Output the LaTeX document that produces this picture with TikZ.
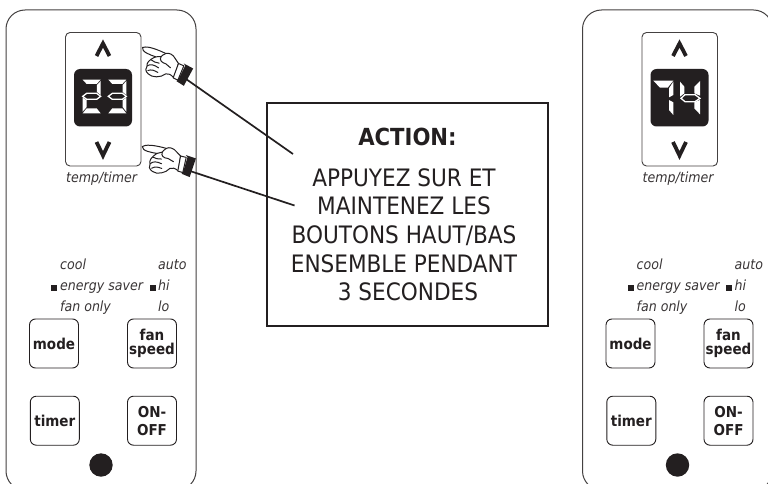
\documentclass[tikz,border=0pt]{standalone}
\usepackage{fontspec}
\setmainfont{DejaVu Sans Condensed}
\definecolor{ink}{HTML}{231F20}
\tikzset{
  x=1pt,y=-1pt,
  shell/.style={draw=ink!85,line width=1pt,fill=white,rounded corners=19pt},
  frame/.style={draw=ink!85,line width=.9pt,rounded corners=4.5pt},
  lcd/.style={fill=ink,rounded corners=6pt},
  btn/.style={draw=ink,line width=.9pt,rounded corners=6pt,minimum width=49pt,minimum height=49pt,inner sep=0pt,align=center,font=\fontsize{15}{15}\selectfont\bfseries,text=ink},
  lab/.style={anchor=base west,inner sep=0pt,font=\fontsize{14}{15}\selectfont\itshape,text=ink!90},
  chev/.style={draw=ink,line width=3.8pt,miter limit=10},
  seg/.style={fill=white},
  segline/.style={draw=white,line width=1.3pt,fill=ink},
  wire/.style={draw=ink,line width=1.7pt},
  handline/.style={draw=ink,line width=1pt,fill=white,line join=round},
  fingerline/.style={draw=ink,line width=1pt,line cap=round},
  actionbox/.style={draw=ink,line width=2pt,fill=white},
}
\newcommand{\remote}[2]{%
  \begin{scope}[xshift=#2pt]
  \draw[shell] (6,10) rectangle (196,490);
  \draw[frame] (65.5,32.5) rectangle (141,166);
  \fill[lcd] (74,69) rectangle (132,126.5);
  \draw[chev] (96.5,56) -- (103,43.5) -- (109.5,56);
  \draw[chev] (96.5,142) -- (103,155.5) -- (109.5,142);
  \node[lab] at (66,182) {temp/timer};
  \node[lab] at (60,269) {cool};
  \node[lab] at (158,269) {auto};
  \node[lab] at (60,290.5) {energy saver};
  \node[lab] at (158,290.5) {hi};
  \node[lab] at (60,311.5) {fan only};
  \node[lab] at (158,311.5) {lo};
  \fill[ink] (51,284.5) rectangle (57,290.5);
  \fill[ink] (149.5,284.5) rectangle (155.5,290.5);
  \node[btn] (#1mode) at (54,343.5) {mode};
  \node[btn] (#1fan) at (152,343.5) {fan\\[-1pt]speed};
  \node[btn] (#1timer) at (54.8,420.7) {timer};
  \node[btn,font=\fontsize{15}{18}\selectfont\bfseries] (#1onoff) at (152,420.7) {ON-\\OFF};
  \fill[ink] (101,465) circle (11.7);
  \end{scope}}
\newcommand{\handpic}[3]{%
  \begin{scope}[shift={(#1,#2)},rotate=#3,x=.3333pt,y=-.3333pt]
  \draw[handline] (0,-3) .. controls (10,-7) and (30,-4) .. (70,15)
     .. controls (80,12) and (92,18) .. (98,30) -- (108,45) -- (94,88)
     .. controls (85,78) and (78,74) .. (70,76)
     .. controls (55,88) and (28,88) .. (17,76)
     .. controls (8,68) and (8,58) .. (14,52)
     .. controls (12,44) and (18,34) .. (40,25)
     .. controls (25,20) and (-4,10) .. (0,-3) -- cycle;
  \draw[fingerline] (40,25) -- (56,24);
  \draw[fingerline] (70,15) .. controls (62,18) and (58,22) .. (56,24) .. controls (50,34) and (56,42) .. (70,46) -- (84,58);
  \draw[fingerline] (14,52) .. controls (24,46) and (34,48) .. (48,58);
  \draw[fingerline] (26,34) .. controls (32,40) and (40,42) .. (50,44);
  \draw[fingerline] (16,66) .. controls (28,62) and (36,66) .. (46,72);
  \draw[handline] (108,45) -- (124,52) -- (106,95) -- (92,88) -- cycle;
  \fill[ink] (124,45) -- (152,60) -- (124,112) -- (102,98) -- (108,92) -- (128,52) -- cycle;
  \end{scope}}
\begin{document}
\begin{tikzpicture}
  \useasboundingbox (0,0) rectangle (768,484);
  \clip (0,0) rectangle (768,484);
  \fill[white] (0,0) rectangle (768,484);
  \remote{a}{0}
  \remote{b}{576.5}
  % digits 2 3
  \begin{scope}[shift={(70,65)},x=.3333pt,y=-.3333pt]
    \foreach \d in {0,77}{
      \begin{scope}[xshift=\d*.3333pt]
      \fill[seg] (38,44) -- (92,44) -- (80,57) -- (50,57) -- cycle;
      \fill[seg] (81,60) -- (92,48) -- (92,90) -- (81,81) -- cycle;
      \draw[segline] (38,94) -- (50,85) -- (80,85) -- (92,94) -- (80,103) -- (50,103) -- cycle;
      \fill[seg] (38,145) -- (50,130) -- (80,130) -- (92,145) -- cycle;
      \end{scope}}
    \fill[seg] (38,98) -- (50,106) -- (50,126) -- (38,140) -- cycle;
    \fill[seg] (169,98) -- (158,106) -- (158,126) -- (169,140) -- cycle;
  \end{scope}
  % digits 7 4
  \begin{scope}[shift={(645,65)},x=.3333pt,y=-.3333pt]
    \fill[seg] (25,47) -- (85,47) -- (68,68) -- (45,68) -- cycle;
    \fill[seg] (72,70) -- (85,50) -- (85,90) -- (72,97) -- cycle;
    \fill[seg] (72,105) -- (85,112) -- (85,150) -- (72,135) -- cycle;
    \fill[seg] (105,50) -- (118,65) -- (118,85) -- (105,95) -- cycle;
    \fill[seg] (148,65) -- (165,48) -- (165,92) -- (148,85) -- cycle;
    \draw[segline] (108,100) -- (120,89) -- (150,89) -- (165,100) -- (150,110) -- (120,110) -- cycle;
    \fill[seg] (148,112) -- (165,105) -- (165,148) -- (148,130) -- cycle;
  \end{scope}
  \node[actionbox,minimum width=281pt,minimum height=222.5pt,inner sep=0pt] (action) at (407.5,214.3) {};
  \node[anchor=base,inner sep=0pt,font=\fontsize{23.5}{28}\selectfont\bfseries,text=ink] (title) at (407.5,146) {ACTION:};
  \node[anchor=north,inner sep=0pt,align=center,font=\fontsize{24}{28.7}\selectfont,text=ink] (body) at (404,168) {APPUYEZ SUR ET\\MAINTENEZ LES\\BOUTONS HAUT/BAS\\ENSEMBLE PENDANT\\\hspace*{8pt}3 SECONDES};
  \coordinate (w1) at (186,79);
  \coordinate (e1) at (293,154);
  \coordinate (w2) at (190,171);
  \coordinate (e2) at (294.5,205.5);
  \draw[wire] (w1) -- (e1);
  \draw[wire] (w2) -- (e2);
  \handpic{142.5}{48.5}{0}
  \handpic{142.5}{147.5}{10}
\end{tikzpicture}
\end{document}
